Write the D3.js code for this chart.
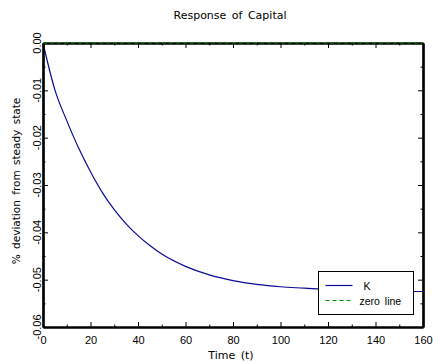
<!DOCTYPE html>
<html>
<head>
<meta charset="utf-8">
<script src="https://cdn.jsdelivr.net/npm/d3@7"></script>
<style>
  body { margin: 0; background: #fff; }
  text { font-family: "Liberation Sans", Arial, sans-serif; fill: #000; }
  .ttl { font-family: "DejaVu Sans", sans-serif; }
</style>
</head>
<body>
<svg id="chart" width="433" height="364"></svg>
<script>
// response of capital
var times = [0, 5, 10, 15, 20, 25, 30, 35, 40, 45, 50, 60, 70, 80, 90, 100, 110, 120, 130, 140, 150, 160];
var capital = [0, -0.0099, -0.0164, -0.0222, -0.0272, -0.0316, -0.0352, -0.0382, -0.0407, -0.0428, -0.0446,
               -0.0472, -0.0490, -0.0502, -0.0510, -0.0515, -0.0518, -0.0521, -0.0523, -0.0524, -0.0525, -0.0525];
var xTicks = [0, 20, 40, 60, 80, 100, 120, 140, 160];
var yTicks = [0, -0.01, -0.02, -0.03, -0.04, -0.05, -0.06];
var legendLabels = ["K", "zero line"];

var svg = d3.select("#chart"),
    margin = { top: 43, right: 10, bottom: 37, left: 43 },
    width = +svg.attr("width") - margin.left - margin.right,
    height = +svg.attr("height") - margin.top - margin.bottom,
    g = svg.append("g").attr("transform", "translate(" + margin.left + "," + margin.top + ")");

var x = d3.scaleLinear().domain([0, 160]).range([0, width]);
var y = d3.scaleLinear().domain([-0.06, 0]).range([height, 0]);

var data = times.map(function (t, i) { return { t: t, v: capital[i] }; });

// curve
g.append("path")
    .datum(data)
    .attr("fill", "none")
    .attr("stroke", "#0a0a96")
    .attr("stroke-width", 1.2)
    .attr("d", d3.line()
        .curve(d3.curveMonotoneX)
        .x(function (d) { return x(d.t); })
        .y(function (d) { return y(d.v); }));

// minor ticks
var xMinor = d3.range(10, 160, 20);
var yMinor = d3.range(-0.055, 0, 0.01);

// axes: ticks pointing inside
var axBottom = d3.axisBottom(x).tickValues(xTicks).tickSizeInner(-5).tickSizeOuter(0).tickPadding(9)
    .tickFormat(d3.format("d"));
var axTop = d3.axisTop(x).tickValues(xTicks).tickSizeInner(-5).tickSizeOuter(0).tickFormat("");
var axLeft = d3.axisLeft(y).tickValues(yTicks).tickSizeInner(-5).tickSizeOuter(0).tickFormat("");
var axRight = d3.axisRight(y).tickValues(yTicks).tickSizeInner(-5).tickSizeOuter(0).tickFormat("");

g.append("g").attr("class", "axis").attr("transform", "translate(0," + height + ")").call(axBottom);
g.append("g").attr("class", "axis").call(axTop);
g.append("g").attr("class", "axis").call(axLeft);
g.append("g").attr("class", "axis").attr("transform", "translate(" + width + ",0)").call(axRight);

g.append("g").attr("class", "axis").attr("transform", "translate(0," + height + ")")
    .call(d3.axisBottom(x).tickValues(xMinor).tickSizeInner(-2.5).tickSizeOuter(0).tickFormat(""));
g.append("g").attr("class", "axis")
    .call(d3.axisTop(x).tickValues(xMinor).tickSizeInner(-2.5).tickSizeOuter(0).tickFormat(""));
g.append("g").attr("class", "axis")
    .call(d3.axisLeft(y).tickValues(yMinor).tickSizeInner(-2.5).tickSizeOuter(0).tickFormat(""));
g.append("g").attr("class", "axis").attr("transform", "translate(" + width + ",0)")
    .call(d3.axisRight(y).tickValues(yMinor).tickSizeInner(-2.5).tickSizeOuter(0).tickFormat(""));

g.selectAll(".axis .domain").attr("stroke", "#000").attr("stroke-width", 2.2);
g.selectAll(".axis line").attr("stroke", "#000").attr("stroke-width", 1);
g.selectAll(".axis text").style("font-size", "11px").style("font-family", "Liberation Sans, Arial, sans-serif");

// zero line (drawn over the top axis)
g.append("line")
    .attr("x1", 0).attr("x2", width)
    .attr("y1", y(0)).attr("y2", y(0))
    .attr("stroke", "#008a00")
    .attr("stroke-width", 1.2)
    .attr("stroke-dasharray", "4,3");

// rotated y tick labels
g.selectAll(".ylab")
    .data(yTicks)
    .enter().append("text")
    .attr("class", "ylab")
    .attr("transform", function (d) { return "translate(-2," + y(d) + ") rotate(-90)"; })
    .attr("text-anchor", "middle")
    .style("font-size", "11px")
    .text(function (d) { return d3.format(".2f")(d).replace("\u2212", "-"); });

// titles
svg.append("text")
    .attr("class", "ttl")
    .attr("x", margin.left + width / 2 - 3)
    .attr("y", 19)
    .attr("text-anchor", "middle")
    .style("font-size", "11px")
    .style("word-spacing", "2px")
    .text("Response of Capital");

svg.append("text")
    .attr("class", "ttl")
    .attr("x", margin.left + width / 2 - 2)
    .attr("y", 359)
    .attr("text-anchor", "middle")
    .style("font-size", "11px")
    .style("word-spacing", "2px")
    .text("Time (t)");

svg.append("text")
    .attr("class", "ttl")
    .attr("transform", "translate(20," + (margin.top + height / 2 - 4) + ") rotate(-90)")
    .attr("text-anchor", "middle")
    .style("font-size", "10.5px")
    .style("word-spacing", "2px")
    .text("% deviation from steady state");

// legend
var legend = svg.append("g").attr("transform", "translate(318.5,271.5)");
legend.append("rect")
    .attr("width", 95).attr("height", 43)
    .attr("fill", "#fff").attr("stroke", "#000").attr("stroke-width", 1);
legend.append("line").attr("x1", 7).attr("x2", 34).attr("y1", 14).attr("y2", 14)
    .attr("stroke", "#0a0a96").attr("stroke-width", 1.2);
legend.append("line").attr("x1", 7).attr("x2", 34).attr("y1", 29).attr("y2", 29)
    .attr("stroke", "#008a00").attr("stroke-width", 1.2).attr("stroke-dasharray", "4,3");
legend.selectAll(".lt")
    .data(legendLabels)
    .enter().append("text")
    .attr("class", "lt")
    .attr("x", function (d, i) { return i === 0 ? 45 : 41; })
    .attr("y", function (d, i) { return 18 + i * 15; })
    .style("font-size", "10.5px")
    .style("word-spacing", "2px")
    .text(function (d) { return d; });
</script>
</body>
</html>
